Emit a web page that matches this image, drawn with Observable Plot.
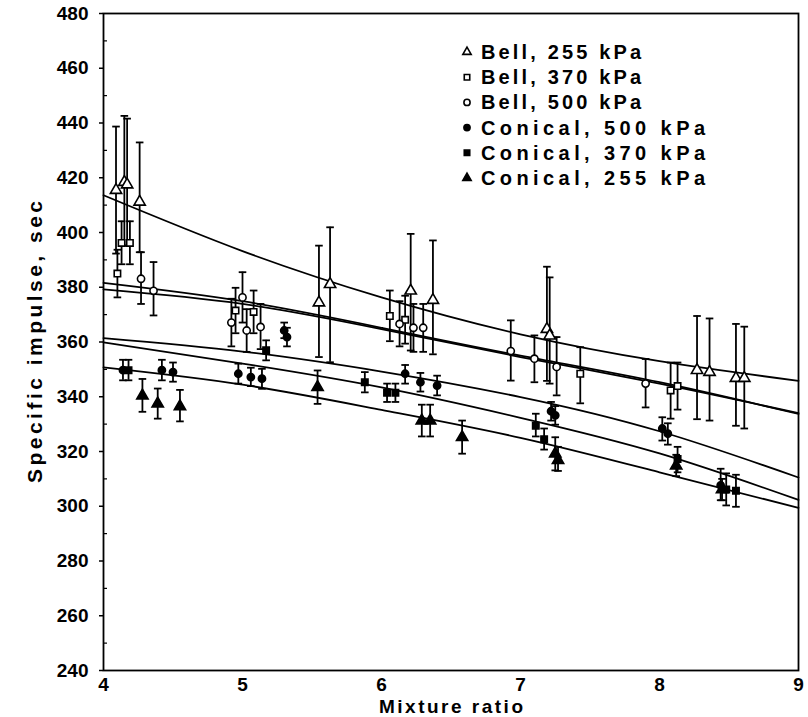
<!DOCTYPE html>
<html><head><meta charset="utf-8">
<script src="https://cdn.jsdelivr.net/npm/d3@7"></script>
<script src="https://cdn.jsdelivr.net/npm/@observablehq/plot@0.6"></script>
<style>body{margin:0;background:#fff}</style>
</head><body><div id="chart"></div><script>
// ---- tick labels ----
const xTicks = [4, 5, 6, 7, 8, 9];
const yTicks = [240, 260, 280, 300, 320, 340, 360, 380, 400, 420, 440, 460, 480];
const yMinor = [250, 270, 290, 310, 330, 350, 370, 390, 410, 430, 450, 470];

// ---- series names ----
const seriesNames = ["Bell, 255 kPa", "Bell, 370 kPa", "Bell, 500 kPa", "Conical, 500 kPa", "Conical, 370 kPa", "Conical, 255 kPa"];

// ---- Bell, 255 kPa (open triangles) ----
const bell255_x  = [4.09, 4.15, 4.17, 4.26, 5.55, 5.63, 6.21, 6.37, 7.19, 7.21, 8.27, 8.36, 8.55, 8.61];
const bell255_y  = [415.5, 418.4, 417.5, 411.2, 374.4, 381.1, 378.7, 375.3, 364.7, 362.3, 349.7, 349, 346.8, 346.8];
const bell255_lo = [392.3, 395.2, 395.2, 392.8, 354.5, 352.6, 356.9, 355.5, 345.8, 344.8, 331.8, 331.3, 329.4, 328.4];
const bell255_hi = [438.7, 442.6, 441.6, 432.9, 395.2, 401.9, 399.5, 397.1, 387.5, 383.6, 369.5, 368.6, 366.6, 365.6];

// ---- Bell, 370 kPa (open squares) ----
const bell370_x  = [4.10, 4.13, 4.19, 4.95, 5.08, 6.06, 6.17, 7.43, 8.08, 8.13];
const bell370_y  = [385, 396.2, 396.2, 371.5, 371, 369.5, 368.1, 348.4, 342.3, 343.9];
const bell370_lo = [376.3, 388.4, 388.4, 363.2, 363.2, 360.3, 359.4, 337.6, 332, 335.3];
const bell370_hi = [393.7, 404.1, 404.1, 379.8, 378.8, 378.8, 376.9, 358.1, 352.5, 352.5];

// ---- Bell, 500 kPa (open circles) ----
const bell500_x  = [4.27, 4.36, 4.92, 5.00, 5.03, 5.13, 6.13, 6.23, 6.30, 6.93, 7.10, 7.26, 7.90];
const bell500_y  = [383.1, 378.7, 367.1, 376.3, 364.2, 365.5, 366.6, 365.2, 365.2, 356.7, 353.9, 350.9, 344.8];
const bell500_lo = [373.9, 369.7, 358.4, 367.1, 356.4, 357.4, 358.4, 356.4, 356.4, 345.9, 345.3, 340.5, 336.1];
const bell500_hi = [392.8, 389.2, 375.8, 385.5, 372, 373.9, 374.9, 373.9, 373.9, 367.9, 362.4, 361.8, 353.8];

// ---- Conical, 500 kPa (filled circles) ----
const con500_x  = [4.14, 4.42, 4.50, 4.97, 5.06, 5.14, 5.30, 5.32, 6.17, 6.28, 6.40, 7.22, 7.25, 8.02, 8.06, 8.44];
const con500_y  = [349.7, 349.7, 349, 348.4, 347.2, 346.6, 364.2, 361.8, 348.4, 345.3, 344.1, 334.7, 333.2, 328.4, 326.5, 307.6];
const con500_lo = [346, 346, 345.5, 344.8, 343.9, 342.9, 361.4, 358.4, 344.8, 341.9, 340.5, 331.3, 329.8, 324, 322.5, 302.2];
const con500_hi = [353.5, 353.5, 352.5, 352.1, 350.6, 350.2, 367.1, 365.2, 351.6, 348.7, 347.7, 338.1, 336.6, 332.5, 330.3, 313.7];

// ---- Conical, 370 kPa (filled squares) ----
const con370_x  = [4.18, 5.17, 5.88, 6.04, 6.10, 7.11, 7.17, 8.13, 8.48, 8.55];
const con370_y  = [349.7, 357, 345.3, 341.5, 341.5, 329.4, 324.5, 317.3, 306.1, 305.7];
const con370_lo = [346, 353.3, 341.6, 338.1, 338.1, 325.5, 320.7, 312.4, 300.3, 299.8];
const con370_hi = [353.5, 360.6, 349, 344.8, 344.8, 333.8, 328.4, 321.7, 312, 311.5];

// ---- Conical, 255 kPa (filled triangles) ----
const con255_x  = [4.28, 4.39, 4.55, 5.54, 6.29, 6.35, 6.58, 7.25, 7.27, 8.12, 8.45];
const con255_y  = [340.4, 337.5, 336.5, 343.5, 331.3, 331.3, 325.2, 319.2, 316.8, 314.8, 306.1];
const con255_lo = [334.5, 332, 331, 337.4, 325.5, 325.5, 319.2, 313.1, 312.9, 311, 302.2];
const con255_hi = [346.5, 343, 342.5, 349.6, 337.1, 337.1, 331.3, 325.2, 321.7, 318.8, 310];

// ---- fitted curves ----
const fitX          = [4, 5, 6, 7, 8, 9];
const fitBell255    = [413.6, 393.2, 376.3, 362.8, 353.0, 345.8];
const fitBell370    = [381.6, 374.9, 365.2, 355.0, 345.3, 333.7];
const fitBell500    = [379.2, 373.9, 364.7, 354.5, 344.8, 334.0];
const fitCon500     = [361.4, 356.5, 349.2, 339.9, 327.4, 310.5];
const fitCon370     = [359.9, 352.1, 343.4, 332.3, 319.3, 302.3];
const fitCon255     = [350.7, 344.4, 335.2, 325.0, 312.4, 299.4];

// ---- build tables ----
const symbols = ["triangle", "square", "circle", "circle", "square", "triangle"];
const fills = ["white", "white", "white", "black", "black", "black"];
const raw = [
  [bell255_x, bell255_y, bell255_lo, bell255_hi],
  [bell370_x, bell370_y, bell370_lo, bell370_hi],
  [bell500_x, bell500_y, bell500_lo, bell500_hi],
  [con500_x, con500_y, con500_lo, con500_hi],
  [con370_x, con370_y, con370_lo, con370_hi],
  [con255_x, con255_y, con255_lo, con255_hi]
];
const points = raw.flatMap(([xs, ys, lo, hi], s) =>
  xs.map((x, i) => ({series: seriesNames[s], s, x, y: ys[i], lo: lo[i], hi: hi[i]})));
const fits = [fitBell255, fitBell370, fitBell500, fitCon500, fitCon370, fitCon255]
  .flatMap((ys, s) => fitX.map((x, i) => ({s, x, y: ys[i]})));

const capSymbol = {draw(ctx, size) { const r = Math.sqrt(size / Math.PI); ctx.moveTo(-r, 0); ctx.lineTo(r, 0); }};

const dotMarks = [0, 1, 2, 3, 4, 5].map(s => Plot.dot(points.filter(d => d.s === s), {
  x: "x", y: "y", symbol: () => symbols[s], r: s === 0 || s === 5 ? 4.2 : 3.6,
  fill: fills[s], stroke: "black", strokeWidth: 1.6
}));

const FONT = "'Liberation Sans', Arial, Helvetica, sans-serif";

const chart = Plot.plot({
  width: 808, height: 717,
  marginLeft: 103, marginRight: 10, marginTop: 13, marginBottom: 47,
  style: {fontFamily: FONT, fontWeight: "bold", fontSize: "19px", background: "white", color: "black"},
  x: {domain: [4, 9]},
  y: {domain: [240, 480]},
  marks: [
    Plot.frame({stroke: "black", strokeWidth: 1.8}),
    Plot.axisY({ticks: yTicks, tickSize: 4, tickPadding: 11, label: null, strokeWidth: 1.5, fontSize: 19, fontWeight: "bold"}),
    Plot.axisY({ticks: yMinor, tickSize: -4, text: null, label: null, strokeWidth: 1.2}),
    Plot.axisX({ticks: xTicks, tickSize: 0, tickPadding: 7, tickFormat: d => String(d), label: null, fontSize: 19, fontWeight: "bold"}),
    Plot.text(["Mixture ratio"], {frameAnchor: "bottom", textAnchor: "middle", lineAnchor: "middle", dy: 36, fontSize: 19, fontWeight: "bold", className: "xtitle"}),
    Plot.text(["Specific impulse, sec"], {frameAnchor: "left", textAnchor: "middle", lineAnchor: "middle", rotate: -90, dx: -68, fontSize: 21, fontWeight: "bold", className: "ytitle"}),
    Plot.line(fits, {x: "x", y: "y", z: "s", curve: "natural", stroke: "black", strokeWidth: 1.8}),
    Plot.ruleX(points, {x: "x", y1: "lo", y2: "hi", stroke: "black", strokeWidth: 1.8}),
    Plot.dot(points, {x: "x", y: "lo", symbol: capSymbol, r: 3.8, stroke: "black", strokeWidth: 1.8}),
    Plot.dot(points, {x: "x", y: "hi", symbol: capSymbol, r: 3.8, stroke: "black", strokeWidth: 1.8}),
    ...dotMarks
  ]
});
document.getElementById("chart").appendChild(chart);

const svg = d3.select(chart);
// stretch the titles to the reference's lengths
svg.selectAll(".xtitle text").attr("textLength", 144).attr("lengthAdjust", "spacing");
svg.selectAll(".ytitle text").attr("textLength", 282).attr("lengthAdjust", "spacing");

// legend (inside the plot, upper right)
const lg = svg.append("g").attr("font-family", FONT).attr("font-weight", "bold")
  .attr("font-size", 20).attr("text-anchor", "start");
seriesNames.forEach((name, i) => {
  const yy = 52 + i * 25.2;
  const sym = symbols[i] === "triangle" ? d3.symbolTriangle : symbols[i] === "square" ? d3.symbolSquare : d3.symbolCircle;
  lg.append("path").attr("d", d3.symbol(sym, 30)()).attr("transform", `translate(467,${yy})`)
    .attr("fill", fills[i]).attr("stroke", "black").attr("stroke-width", 1.6);
  lg.append("text").attr("x", 481).attr("y", yy).attr("dy", "0.35em").attr("fill", "black")
    .attr("textLength", i < 3 ? 160 : 224).attr("lengthAdjust", "spacing").text(name);
});
</script></body></html>
